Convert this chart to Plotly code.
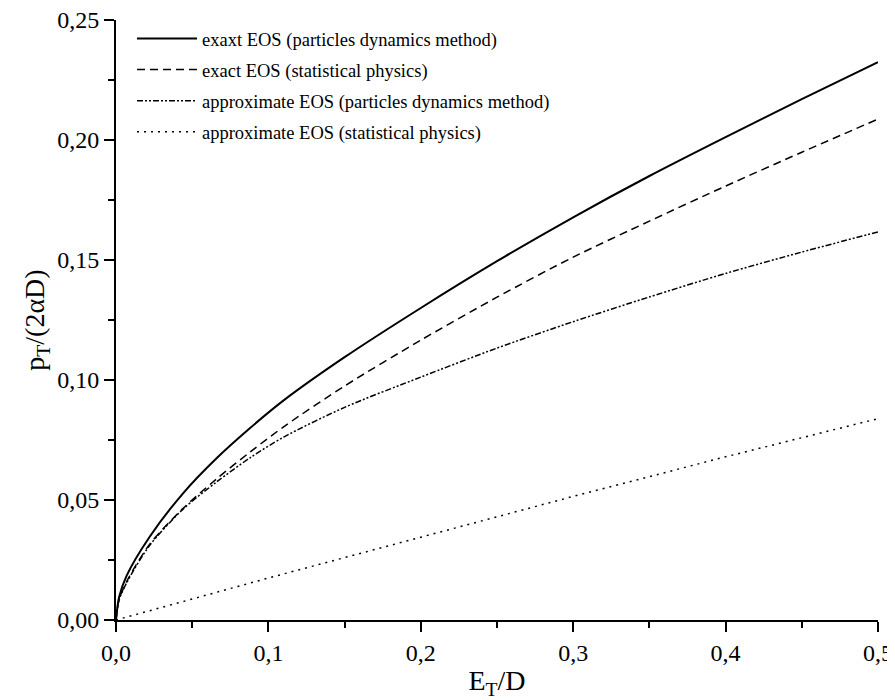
import plotly.graph_objects as go

# Data
E_grid = [0, 0.002, 0.007, 0.022, 0.044, 0.066, 0.088, 0.11, 0.15, 0.2, 0.25, 0.3, 0.35, 0.4, 0.45, 0.5]
p_exact_pd = [0, 0.0095, 0.0185, 0.0346, 0.0528, 0.0674, 0.0800, 0.0915, 0.1095, 0.1300, 0.1495, 0.1678, 0.1850, 0.2012, 0.2170, 0.2324]
p_exact_sp = [0, 0.0085, 0.0160, 0.0315, 0.0465, 0.0588, 0.0700, 0.0805, 0.0975, 0.1166, 0.1345, 0.1512, 0.1662, 0.1808, 0.1949, 0.2087]
p_approx_pd = [0, 0.0083, 0.0155, 0.0310, 0.0462, 0.0575, 0.0676, 0.0762, 0.0886, 0.1012, 0.1133, 0.1243, 0.1346, 0.1444, 0.1533, 0.1617]

E_dot = [0, 0.1, 0.2, 0.3, 0.4, 0.5]
p_approx_sp = [0, 0.0175, 0.0345, 0.0515, 0.068, 0.0839]

names = [
    "exaxt EOS (particles dynamics method)",
    "exact EOS (statistical physics)",
    "approximate EOS (particles dynamics method)",
    "approximate EOS (statistical physics)",
]

x_ticks = [0, 0.1, 0.2, 0.3, 0.4, 0.5]
y_ticks = [0, 0.05, 0.10, 0.15, 0.20, 0.25]

FONT = "Liberation Serif"

fig = go.Figure()
fig.add_trace(go.Scatter(x=E_grid, y=p_exact_pd, mode="lines", name=names[0], legendgroup="a",
                         line=dict(color="black", width=2, shape="spline", smoothing=0.8)))
fig.add_trace(go.Scatter(x=E_grid, y=p_exact_sp, mode="lines", name=names[1], legendgroup="b",
                         line=dict(color="black", width=1.5, dash="8px,5px", shape="spline", smoothing=0.8)))
fig.add_trace(go.Scatter(x=E_grid, y=p_approx_pd, mode="lines", name=names[2], legendgroup="c",
                         line=dict(color="black", width=1.5, dash="6px,2px,2px,2px,2px,2px", shape="spline", smoothing=0.8)))
fig.add_trace(go.Scatter(x=E_dot, y=p_approx_sp, mode="lines", name=names[3], legendgroup="d",
                         line=dict(color="black", width=1.5, dash="2px,5px")))

fig.update_layout(
    width=887, height=692,
    margin=dict(l=108, r=17, t=12, b=80),
    paper_bgcolor="white", plot_bgcolor="white",
    separators=",.",
    font=dict(family=FONT, size=24, color="black"),
    showlegend=True,
    legend=dict(x=0.021, y=1.0, xanchor="left", yanchor="top",
                bgcolor="rgba(0,0,0,0)", font=dict(family=FONT, size=18.5, color="black"),
                tracegroupgap=4, itemwidth=60),
)
fig.update_xaxes(
    range=[0, 0.5], tickvals=x_ticks, tickformat=".1f", automargin=False,
    ticklabeloverflow="allow",
    showgrid=False, zeroline=False, showline=True, linecolor="black", linewidth=2,
    ticks="outside", ticklen=10, tickwidth=2, tickcolor="black",
    minor=dict(ticks="outside", ticklen=6, tickwidth=2, tickcolor="black", dtick=0.05, showgrid=False),
    title=dict(text="E<sub>T</sub>/D", font=dict(family=FONT, size=28, color="black"), standoff=8),
    tickfont=dict(family=FONT, size=24, color="black"),
)
fig.update_yaxes(
    range=[0, 0.25], tickvals=y_ticks, tickformat=".2f", automargin=False,
    ticklabeloverflow="allow",
    showgrid=False, zeroline=False, showline=True, linecolor="black", linewidth=2,
    ticks="outside", ticklen=10, tickwidth=2, tickcolor="black",
    minor=dict(ticks="outside", ticklen=6, tickwidth=2, tickcolor="black", dtick=0.025, showgrid=False),
    title=dict(text="p<sub>T</sub>/(2αD)", font=dict(family=FONT, size=28, color="black"), standoff=4),
    tickfont=dict(family=FONT, size=24, color="black"),
)

fig.write_html("out.html")
